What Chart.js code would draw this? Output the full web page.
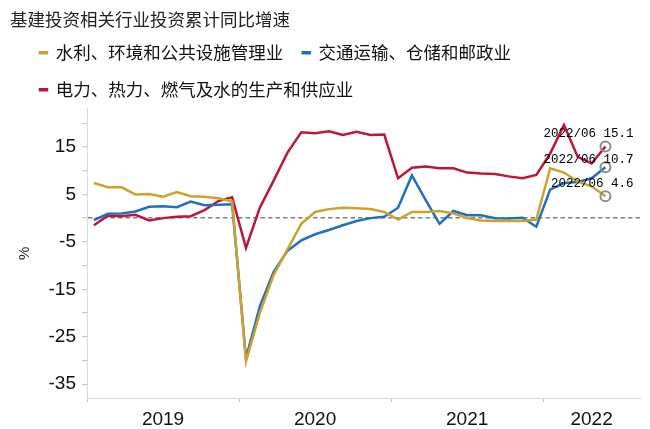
<!DOCTYPE html>
<html>
<head>
<meta charset="utf-8">
<script src="https://cdn.jsdelivr.net/npm/chart.js@4.4.1/dist/chart.umd.min.js"></script>
<style>
  html, body { margin: 0; padding: 0; background: #fff; }
  #box { width: 650px; height: 429px; }
</style>
</head>
<body>
<div id="box"><canvas id="infraChart"></canvas></div>
<script>
// 月份：1-2月合并发布，所以每年从2月开始
var months = [
  '2019/02', '2019/03', '2019/04', '2019/05', '2019/06', '2019/07', '2019/08', '2019/09', '2019/10', '2019/11', '2019/12',
  '2020/02', '2020/03', '2020/04', '2020/05', '2020/06', '2020/07', '2020/08', '2020/09', '2020/10', '2020/11', '2020/12',
  '2021/02', '2021/03', '2021/04', '2021/05', '2021/06', '2021/07', '2021/08', '2021/09', '2021/10', '2021/11', '2021/12',
  '2022/02', '2022/03', '2022/04', '2022/05', '2022/06'
];

// 横轴年份分组，2022年留到8月
var years = ['2019', '2020', '2021', '2022'];
var yearSlots = [11, 11, 11, 7];

// 累计同比增速 %
var waterData = [
  7.4, 6.5, 6.5, 5.0, 5.1, 4.5, 5.5, 4.6, 4.5, 4.2, 3.5,
  -30.2, -20.0, -12.0, -6.6, -1.2, 1.3, 1.9, 2.2, 2.1, 1.9, 1.3,
  -0.3, 1.3, 1.3, 1.5, 1.0, 0.0, -0.5, -0.6, -0.6, -0.6, -0.3,
  10.5, 9.6, 7.7, 6.7, 4.6
];
var transportData = [
  -0.4, 0.9, 1.0, 1.4, 2.4, 2.5, 2.3, 3.5, 2.7, 2.8, 2.9,
  -29.5, -18.6, -11.3, -6.9, -4.7, -3.4, -2.5, -1.5, -0.6, 0.0, 0.3,
  2.2, 9.0, 3.8, -1.2, 1.5, 0.6, 0.6, 0.0, -0.1, 0.1, -1.8,
  6.0, 7.4, 7.6, 8.4, 10.7
];
var powerData = [
  -1.5, 0.5, 0.4, 0.7, -0.5, 0.0, 0.3, 0.4, 1.7, 3.6, 4.4,
  -6.3, 2.2, 7.9, 13.8, 18.1, 17.9, 18.3, 17.5, 18.2, 17.5, 17.6,
  8.4, 10.6, 10.9, 10.5, 10.5, 9.6, 9.4, 9.3, 8.8, 8.4, 9.1,
  13.6, 19.6, 12.9, 11.5, 15.1
];

var yTicks = [-35, -30, -25, -20, -15, -10, -5, 0, 5, 10, 15, 20];

// 年份分界和年份中点
var yearEdges = [0];
var yearCenters = [];
yearSlots.forEach(function(n, i) {
  yearCenters.push(yearEdges[i] + n / 2);
  yearEdges.push(yearEdges[i] + n);
});
var totalSlots = yearEdges[yearEdges.length - 1];

// 每个月放在自己格子的中间
function toPoints(values) {
  return values.map(function(v, i) { return { x: i + 0.5, y: v }; });
}

var lastIndex = months.length - 1;
var cjk = "'Noto Sans CJK SC', sans-serif";
var latin = "'Liberation Sans', Arial, sans-serif";

function makeSet(label, values, color) {
  return {
    label: label,
    data: toPoints(values),
    borderColor: color,
    backgroundColor: color,
    borderWidth: 2.5,
    tension: 0,
    pointRadius: function(c) { return c.dataIndex === lastIndex ? 5 : 0; },
    pointBorderColor: '#8c8c8c',
    pointBackgroundColor: 'rgba(0,0,0,0)',
    pointBorderWidth: 2,
    pointHoverRadius: 0
  };
}

// 最新一期的数值标注
var lastLabels = {
  id: 'lastLabels',
  afterDatasetsDraw: function(chart) {
    var ctx = chart.ctx;
    var lift = [13, 8, 13];
    ctx.save();
    ctx.font = "12.5px 'Liberation Mono', monospace";
    ctx.fillStyle = '#000';
    ctx.textAlign = 'right';
    ctx.textBaseline = 'middle';
    chart.data.datasets.forEach(function(ds, k) {
      var pt = chart.getDatasetMeta(k).data[lastIndex];
      var v = ds.data[lastIndex].y;
      ctx.fillText(months[lastIndex] + ' ' + v.toFixed(1), pt.x + 28, pt.y - lift[k]);
    });
    ctx.restore();
  }
};

// 图例往右缩进一点
var legendIndent = {
  id: 'legendIndent',
  afterLayout: function(chart) {
    chart.legend.left += 10.5;
    chart.legend.right += 10.5;
  }
};

var ctx = document.getElementById('infraChart').getContext('2d');
var myChart = new Chart(ctx, {
  type: 'line',
  data: {
    datasets: [
      makeSet('水利、环境和公共设施管理业', waterData, '#cba32c'),
      makeSet('交通运输、仓储和邮政业', transportData, '#2170c0'),
      makeSet('电力、热力、燃气及水的生产和供应业', powerData, '#be1638')
    ]
  },
  options: {
    responsive: true,
    maintainAspectRatio: false,
    animation: false,
    layout: { padding: { left: 10, right: 10, top: 14, bottom: 0 } },
    plugins: {
      title: {
        display: true,
        text: '基建投资相关行业投资累计同比增速',
        align: 'start',
        color: '#222',
        font: { family: cjk, size: 17.5, weight: 'normal', lineHeight: 0.6 },
        padding: 0
      },
      legend: {
        align: 'start',
        labels: {
          color: '#111',
          font: { family: cjk, size: 17.5 },
          boxWidth: 7,
          boxHeight: 1,
          padding: 19.5
        }
      },
      tooltip: { enabled: false }
    },
    scales: {
      x: {
        type: 'linear',
        min: 0,
        max: totalSlots,
        afterBuildTicks: function(scale) {
          var t = yearEdges.slice(0, -1).concat(yearCenters).sort(function(a, b) { return a - b; });
          scale.ticks = t.map(function(v) { return { value: v }; });
        },
        afterFit: function(scale) { scale.height = 31; },
        ticks: {
          autoSkip: false,
          maxRotation: 0,
          padding: 6,
          color: '#111',
          font: { family: latin, size: 19 },
          callback: function(v) {
            var k = yearCenters.indexOf(v);
            return k >= 0 ? years[k] : '';
          }
        },
        grid: {
          drawOnChartArea: false,
          tickLength: 4,
          tickWidth: 1,
          tickColor: function(c) {
            return c.tick && yearCenters.indexOf(c.tick.value) >= 0 ? 'rgba(0,0,0,0)' : '#bfbfbf';
          }
        },
        border: { color: '#d9d9d9', width: 1 }
      },
      y: {
        min: -37.9,
        max: 23.1,
        afterBuildTicks: function(scale) {
          scale.ticks = yTicks.map(function(v) { return { value: v }; });
        },
        afterFit: function(scale) { scale.width = 77; },
        title: {
          display: true,
          text: '%',
          color: '#222',
          font: { family: latin, size: 15 },
          padding: { top: 6, bottom: 0 }
        },
        ticks: {
          padding: 6,
          color: '#111',
          font: { family: latin, size: 19 },
          callback: function(v) { return v % 10 !== 0 ? String(v) : ''; }
        },
        grid: {
          color: function(c) { return c.tick && c.tick.value === 0 ? '#808080' : 'rgba(0,0,0,0)'; },
          lineWidth: 1.4,
          tickLength: 5,
          tickWidth: 1,
          tickColor: '#bfbfbf'
        },
        border: { color: '#d9d9d9', width: 1, dash: [4.5, 3] }
      }
    }
  },
  plugins: [lastLabels, legendIndent]
});
</script>
</body>
</html>
